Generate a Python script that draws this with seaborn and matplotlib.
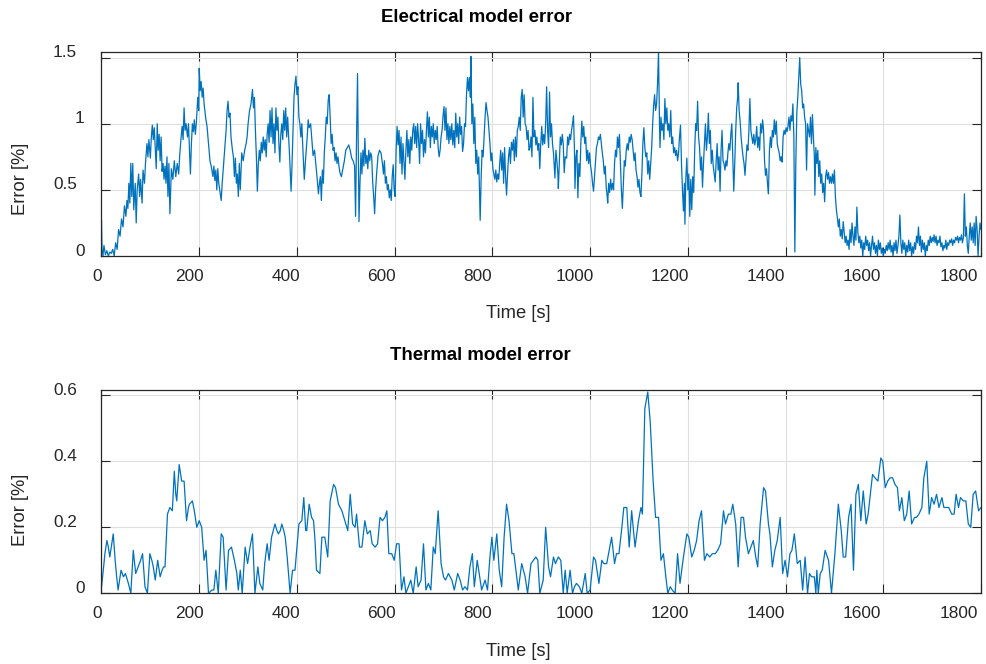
import matplotlib
matplotlib.use("Agg")
import matplotlib.pyplot as plt
from matplotlib.transforms import ScaledTranslation
import pandas as pd
import seaborn as sns

# ---------------------------------------------------------------- data
# Electrical model error [%] versus time [s]
elec_time = [
    0, 1, 3, 5, 8, 11, 14, 17, 20, 23,
    26, 29, 32, 35, 38, 41, 44, 47, 50, 52,
    54, 56, 58, 60, 62, 64, 66, 69, 71, 73,
    76, 78, 80, 83, 85, 88, 90, 93, 95, 97,
    100, 102, 104, 106, 108, 110, 112, 114, 116, 118,
    120, 122, 124, 126, 128, 130, 132, 134, 136, 138,
    140, 143, 146, 149, 152, 155, 158, 160, 163, 165,
    167, 169, 171, 173, 176, 178, 180, 182, 184, 186,
    188, 190, 192, 194, 197, 199, 200, 202, 204, 206,
    208, 210, 213, 216, 219, 222, 225, 228, 230, 232,
    234, 236, 238, 240, 243, 245, 247, 249, 252, 255,
    257, 259, 261, 263, 265, 268, 270, 272, 274, 276,
    278, 280, 282, 284, 287, 290, 293, 296, 298, 300,
    303, 306, 309, 311, 313, 315, 317, 319, 321, 323,
    325, 327, 329, 331, 333, 335, 337, 339, 341, 343,
    345, 347, 349, 351, 353, 355, 357, 359, 361, 363,
    365, 367, 369, 371, 373, 375, 377, 379, 381, 383,
    385, 388, 390, 392, 394, 396, 398, 400, 402, 404,
    406, 408, 410, 412, 415, 418, 421, 423, 425, 428,
    431, 433, 436, 438, 441, 444, 446, 448, 450, 452,
    454, 456, 458, 460, 462, 464, 466, 468, 470, 472,
    474, 476, 478, 480, 482, 484, 486, 488, 491, 494,
    497, 500, 503, 506, 509, 512, 515, 518, 520, 522,
    524, 526, 527, 529, 531, 533, 535, 537, 539, 541,
    543, 545, 547, 549, 551, 553, 555, 557, 559, 561,
    563, 566, 569, 572, 575, 577, 579, 581, 583, 585,
    587, 589, 591, 593, 595, 597, 599, 601, 603, 605,
    607, 609, 611, 613, 615, 617, 619, 621, 623, 625,
    627, 629, 631, 633, 635, 637, 639, 641, 643, 645,
    647, 649, 651, 653, 655, 657, 659, 661, 663, 665,
    667, 669, 671, 673, 675, 677, 679, 681, 683, 685,
    687, 689, 691, 693, 695, 697, 699, 701, 703, 705,
    707, 709, 711, 713, 715, 717, 719, 721, 723, 725,
    727, 729, 731, 733, 735, 737, 739, 741, 743, 745,
    747, 749, 751, 753, 755, 756, 758, 760, 762, 764,
    766, 768, 770, 772, 774, 775, 777, 779, 781, 783,
    785, 787, 789, 791, 793, 795, 797, 799, 801, 803,
    805, 807, 809, 811, 813, 815, 817, 819, 821, 823,
    825, 827, 829, 831, 833, 835, 837, 839, 841, 843,
    845, 847, 849, 851, 853, 855, 857, 859, 861, 863,
    865, 867, 869, 871, 873, 875, 877, 879, 881, 883,
    885, 887, 889, 891, 893, 895, 897, 899, 901, 903,
    905, 907, 909, 911, 913, 915, 917, 919, 921, 923,
    925, 927, 928, 930, 932, 934, 935, 937, 939, 941,
    943, 945, 947, 949, 952, 954, 956, 958, 960, 962,
    964, 966, 968, 969, 971, 973, 975, 977, 979, 981,
    983, 985, 987, 989, 991, 993, 995, 997, 999, 1001,
    1003, 1005, 1007, 1009, 1011, 1013, 1015, 1017, 1019, 1021,
    1023, 1025, 1027, 1029, 1031, 1033, 1035, 1036, 1038, 1040,
    1042, 1044, 1046, 1048, 1050, 1052, 1054, 1056, 1058, 1060,
    1062, 1064, 1066, 1068, 1070, 1072, 1074, 1076, 1078, 1080,
    1082, 1084, 1086, 1088, 1090, 1092, 1094, 1096, 1098, 1100,
    1102, 1104, 1106, 1108, 1110, 1112, 1114, 1116, 1118, 1120,
    1122, 1124, 1126, 1128, 1130, 1132, 1134, 1136, 1138, 1140,
    1142, 1143, 1145, 1147, 1149, 1151, 1153, 1155, 1157, 1159,
    1161, 1163, 1165, 1167, 1169, 1171, 1173, 1175, 1177, 1179,
    1181, 1183, 1185, 1187, 1189, 1191, 1193, 1194, 1196, 1198,
    1200, 1202, 1204, 1206, 1208, 1210, 1212, 1214, 1216, 1218,
    1220, 1222, 1224, 1226, 1228, 1230, 1232, 1234, 1236, 1238,
    1240, 1242, 1244, 1246, 1248, 1250, 1252, 1254, 1256, 1258,
    1260, 1262, 1264, 1266, 1268, 1270, 1272, 1274, 1276, 1278,
    1280, 1282, 1284, 1286, 1288, 1290, 1292, 1294, 1296, 1298,
    1300, 1302, 1303, 1305, 1307, 1309, 1311, 1313, 1315, 1317,
    1319, 1321, 1323, 1325, 1327, 1329, 1331, 1333, 1335, 1337,
    1339, 1341, 1343, 1345, 1347, 1349, 1351, 1353, 1355, 1357,
    1359, 1361, 1363, 1365, 1367, 1369, 1371, 1373, 1375, 1377,
    1379, 1381, 1383, 1385, 1387, 1389, 1391, 1393, 1395, 1397,
    1399, 1401, 1403, 1405, 1407, 1409, 1411, 1413, 1415, 1417,
    1419, 1421, 1423, 1425, 1427, 1429, 1431, 1433, 1435, 1437,
    1439, 1441, 1443, 1445, 1447, 1449, 1451, 1453, 1455, 1457,
    1459, 1460, 1462, 1464, 1466, 1468, 1470, 1472, 1474, 1476,
    1478, 1480, 1482, 1484, 1486, 1488, 1490, 1492, 1494, 1496,
    1498, 1500, 1502, 1504, 1506, 1508, 1510, 1512, 1514, 1516,
    1518, 1520, 1522, 1524, 1526, 1528, 1530, 1532, 1534, 1536,
    1538, 1540, 1542, 1544, 1546, 1548, 1550, 1552, 1554, 1556,
    1558, 1560, 1562, 1564, 1566, 1568, 1570, 1572, 1574, 1576,
    1578, 1580, 1582, 1584, 1586, 1588, 1590, 1592, 1594, 1596,
    1598, 1600, 1602, 1604, 1606, 1608, 1610, 1612, 1614, 1616,
    1618, 1620, 1622, 1624, 1626, 1628, 1630, 1632, 1634, 1636,
    1638, 1640, 1642, 1644, 1646, 1648, 1650, 1652, 1654, 1656,
    1658, 1660, 1662, 1664, 1666, 1668, 1670, 1672, 1674, 1676,
    1678, 1680, 1682, 1684, 1686, 1688, 1690, 1692, 1694, 1696,
    1698, 1700, 1702, 1704, 1706, 1708, 1710, 1712, 1714, 1716,
    1718, 1720, 1722, 1724, 1726, 1728, 1730, 1732, 1734, 1736,
    1738, 1740, 1742, 1744, 1746, 1748, 1750, 1752, 1754, 1756,
    1758, 1760, 1762, 1764, 1766, 1768, 1770, 1772, 1774, 1776,
    1778, 1780, 1782, 1784, 1786, 1788, 1790, 1792, 1794, 1796,
    1798, 1800,
]
elec_error = [
    .27, .05, 0, .08, .01, .04, 0, .03, .02, .05,
    0, .1, .05, .2, .15, .28, .22, .38, .3, .42,
    .36, .55, .4, .7, .45, .7, .35, .55, .25, .5,
    .62, .45, .58, .4, .65, .55, .7, .85, .75, .88,
    .74, .9, .99, .88, .97, .82, .66, 1.0, .8, .92,
    .72, .9, .64, .7, .58, .68, .55, .75, .45, .7,
    .32, .66, .58, .72, .6, .7, .62, .76, .9, .98,
    .88, 1.12, .95, 1.0, .9, 1.0, .8, .62, .85, 1.0,
    .94, 1.03, .92, 1.0, 1.2, 1.1, 1.42, 1.25, 1.32, 1.2,
    1.27, 1.15, 1.05, .98, .85, .72, .67, .6, .68, .57,
    .65, .5, .66, .55, .47, .42, .55, .65, .8, .95,
    1.1, 1.17, 1.05, 1.08, .9, .8, .75, .6, .74, .55,
    .62, .45, .7, .5, .78, .72, .8, .85, .9, 1.0,
    1.1, 1.15, 1.26, 1.12, 1.2, .95, .75, .49, .7, .8,
    .72, .86, .78, .9, .8, .88, .75, .92, 1.0, .86,
    1.1, .9, 1.12, .85, 1.0, .78, 1.12, .95, 1.05, .85,
    .71, .92, 1.0, .88, 1.1, .95, 1.12, .9, 1.05, .9,
    .75, .49, .7, .95, 1.2, 1.3, 1.36, 1.22, 1.28, 1.05,
    1.0, .9, 1.0, .82, .58, .75, .9, 1.03, .97, 1.0,
    .85, .76, .8, .72, .6, .47, .55, .6, .42, .65,
    .55, .78, .9, 1.05, 1.0, 1.18, 1.22, 1.05, .85, .92,
    .8, .82, .72, .78, .7, .75, .68, .63, .6, .66,
    .72, .8, .82, .84, .8, .74, .72, .68, .3, .9,
    1.38, .6, .26, .55, .78, .62, .8, .68, .89, .7,
    .76, .66, .8, .72, .78, .75, .56, .45, .32, .5,
    .62, .76, .8, .78, .7, .62, .72, .55, .6, .5,
    .54, .44, .5, .42, .6, .69, .5, .45, .8, .98,
    .84, .95, .7, .9, .62, .85, .72, .58, .8, .95,
    .75, .88, .7, .9, .8, .95, 1.0, .85, .98, .82,
    1.0, .88, .7, 1.0, .85, .95, .75, .88, .78, .95,
    1.09, .9, 1.05, .82, .98, .9, 1.0, .85, .95, .88,
    .98, .82, .75, .8, .9, .95, 1.06, 1.13, .95, 1.12,
    .88, 1.0, .85, .98, .88, 1.0, .84, .95, .82, 1.08,
    .9, 1.0, .85, 1.05, .92, .98, .79, .85, 1.0, .98,
    1.22, 1.35, 1.25, 1.35, 1.2, 1.51, 1.0, 1.15, .85, 1.05,
    .7, .8, .62, .75, .45, .27, .6, .8, .75, .9,
    1.05, 1.16, 1.1, 1.05, .95, .85, .72, .78, .66, .62,
    .58, .65, .56, .62, .58, .7, .8, .65, .78, .55,
    .82, .6, .46, .62, .75, .82, .7, .86, .8, .88,
    .72, .9, .75, .95, .98, 1.05, .95, 1.2, 1.26, 1.05,
    1.22, 1.0, .98, .88, .95, .8, .82, .9, .75, 1.2,
    .9, .95, .84, .9, .8, .85, .66, .85, .98, .84,
    .92, .85, 1.0, 1.28, .95, .82, 1.24, .9, 1.0, .85,
    .78, .65, .59, .8, .72, .62, .51, .7, .9, .84,
    .92, .85, .63, .75, .74, .9, .84, .92, .88, .95,
    1.0, 1.06, .8, .51, .75, .8, .44, .7, .6, .85,
    1.02, .9, .98, .85, .9, .72, .8, .7, .78, .68,
    .63, .55, .49, .6, .72, .82, .85, .9, .88, .92,
    .85, .78, .72, .62, .68, .52, .45, .4, .55, .48,
    .58, .5, .55, .5, .7, .8, .75, .9, .82, .92,
    .7, .5, .36, .55, .72, .68, .8, .85, .8, .9,
    .86, .92, .88, .8, .72, .78, .65, .6, .52, .58,
    .48, .45, .62, .85, .97, .82, .75, .78, .62, .72,
    .58, .7, .82, 1.0, 1.14, 1.22, 1.1, 1.15, 1.3, 1.55,
    1.0, .82, 1.05, .95, 1.0, .88, 1.19, 1.0, 1.12, .95,
    1.0, .9, 1.1, .85, .9, .78, .82, .76, .8, .72,
    .78, .9, .99, .7, .5, .34, .55, .24, .6, .74,
    .5, .62, .3, .58, .35, .6, .48, .8, 1.0, .95,
    1.17, .9, .82, .65, .75, .52, .7, .85, 1.0, .8,
    .9, 1.08, .85, .95, .7, .8, .68, .62, .56, .72,
    .85, .65, .75, .49, .8, .95, .72, .7, .65, .72,
    .68, .78, .85, .8, .92, 1.0, .75, .49, .7, .95,
    1.12, 1.2, 1.31, 1.1, 1.02, .9, .82, .75, .7, .61,
    .72, .84, .8, .95, 1.19, .95, .9, .85, .92, .84,
    .88, .98, .82, .9, .8, 1.0, .93, 1.03, .95, .72,
    .61, .66, .55, .47, .8, .9, .82, .95, .9, 1.03,
    .92, 1.02, .85, .81, .78, .72, .75, .71, .9, .95,
    .92, .97, .94, .98, 1.05, .95, 1.06, 1.02, 1.15, .9,
    .03, .7, 1.08, 1.2, 1.35, 1.5, 1.3, 1.25, 1.12, 1.15,
    1.05, 1.0, .65, 1.0, .95, .9, 1.05, .85, 1.07, .9,
    .75, .46, .82, .7, .8, .6, .72, .55, .62, .48,
    .55, .41, .6, .65, .58, .63, .55, .6, .55, .62,
    .55, .65, .45, .35, .29, .22, .28, .15, .2, .13,
    .26, .18, .1, .15, .08, .12, .05, .2, .1, .25,
    .15, .08, .22, .12, .37, .18, .1, .15, .06, .12,
    0, .1, .05, .15, .08, .12, .04, .1, 0, .08,
    .15, .05, .1, .02, .08, 0, .12, .05, .1, .02,
    .06, 0, .05, .02, .08, .04, .1, .05, .12, .03,
    .08, 0, .1, .04, .12, .02, .08, .15, .31, .1,
    .02, .12, .05, .1, 0, .08, .03, .12, .04, .1,
    0, .07, .02, .1, .05, .15, .1, .22, .08, .15,
    .03, .12, .05, .1, 0, .08, .04, .12, .08, .15,
    .1, .14, .11, .16, .1, .15, .08, .12, .1, .15,
    .07, .1, .04, .08, .06, .12, .05, .1, .08, .12,
    .1, .13, .08, .12, .1, .14, .12, .15, .1, .14,
    .12, .16, .1, .14, .47, .15, .22, .08, .02, .15,
    .25, .12, .22, .1, .25, .08, .3, .2, 0, .15,
    .25, .2,
]

# Thermal model error [%] versus time [s]
therm_time = [
    0, 3, 7, 11, 14, 17, 21, 24, 28, 31,
    34, 37, 40, 45, 49, 55, 60, 65, 70, 75,
    80, 84, 89, 94, 99, 103, 106, 110, 115, 120,
    124, 127, 130, 135, 140, 145, 149, 152, 154, 159,
    164, 169, 174, 178, 180, 186, 190, 195, 200, 205,
    210, 214, 219, 226, 230, 234, 239, 245, 249, 255,
    260, 266, 272, 277, 280, 284, 288, 294, 299, 304,
    309, 314, 320, 324, 330, 334, 339, 343, 348, 355,
    359, 362, 366, 369, 373, 376, 380, 386, 391, 396,
    400, 404, 410, 414, 418, 420, 425, 430, 434, 437,
    440, 447, 451, 457, 463, 468, 475, 479, 485, 492,
    498, 504, 509, 514, 519, 522, 528, 533, 539, 544,
    550, 554, 560, 565, 570, 575, 580, 584, 588, 594,
    599, 604, 609, 614, 619, 623, 628, 633, 638, 644,
    648, 654, 659, 664, 669, 674, 679, 683, 689, 695,
    700, 704, 710, 717, 722, 729, 734, 739, 744, 749,
    754, 759, 763, 769, 773, 778, 785, 790, 795, 799,
    803, 809, 814, 819, 824, 829, 834, 840, 844, 848,
    853, 860, 867, 872, 879, 884, 889, 893, 897, 904,
    909, 915, 919, 925, 929, 935, 940, 945, 949, 953,
    959, 964, 968, 972, 978, 983, 990, 994, 1000, 1007,
    1011, 1018, 1024, 1028, 1034, 1039, 1044, 1050, 1054, 1059,
    1065, 1069, 1075, 1080, 1085, 1092, 1099, 1104, 1107, 1112,
    1118, 1123, 1129, 1134, 1140, 1145, 1150, 1155, 1159, 1164,
    1168, 1174, 1179, 1184, 1191, 1198, 1202, 1208, 1213, 1218,
    1223, 1228, 1234, 1239, 1245, 1250, 1256, 1261, 1267, 1273,
    1277, 1283, 1288, 1292, 1298, 1303, 1309, 1314, 1318, 1324,
    1329, 1334, 1339, 1343, 1348, 1355, 1359, 1365, 1368, 1373,
    1378, 1383, 1389, 1394, 1399, 1404, 1409, 1413, 1418, 1424,
    1430, 1435, 1440, 1445, 1449, 1453, 1459, 1462, 1464, 1467,
    1471, 1475, 1481, 1488, 1494, 1501, 1508, 1514, 1518, 1523,
    1529, 1534, 1539, 1544, 1549, 1554, 1559, 1565, 1569, 1578,
    1583, 1589, 1595, 1599, 1604, 1609, 1614, 1619, 1624, 1629,
    1633, 1638, 1643, 1648, 1653, 1658, 1664, 1668, 1673, 1679,
    1683, 1689, 1694, 1699, 1704, 1709, 1714, 1720, 1724, 1730,
    1734, 1740, 1745, 1749, 1754, 1758, 1764, 1769, 1774, 1779,
    1784, 1789, 1795, 1800,
]
therm_error = [
    .02, .06, .12, .16, .14, .11, .15, .18, .10, .05,
    .01, .04, .07, .05, .06, .03, 0, .13, .06, .08,
    .10, .12, .02, 0, .12, .10, .08, .04, .10, .05,
    .07, .08, .08, .24, .26, .25, .37, .30, .28, .39,
    .34, .34, .22, .26, .27, .28, .25, .20, .22, .20,
    .10, .13, 0, .01, .01, .07, 0, .18, .17, .01,
    .13, .14, .10, .06, .01, .07, 0, .14, .09, .14,
    .18, 0, .08, .03, .01, .09, .15, .10, .17, .21,
    .19, .18, .19, .21, .19, .17, .11, 0, .07, .07,
    .14, .21, .22, .29, .19, .19, .27, .23, .22, .16,
    .07, .06, .17, .17, .11, .28, .33, .32, .27, .25,
    .22, .19, .30, .21, .20, .24, .14, .14, .22, .18,
    .19, .15, .14, .15, .23, .22, .23, .25, .12, .12,
    .10, .15, .15, .01, .05, 0, .02, .04, 0, .08,
    .02, .04, .15, .01, .03, .01, .14, .12, .25, .09,
    .05, .04, .06, .04, .01, .06, .04, .01, .02, .01,
    .08, .12, .02, .10, .06, .01, .04, .01, .11, .17,
    .10, .18, .07, .02, .17, .27, .22, .12, .12, .07,
    .01, .09, .05, 0, .09, .10, .11, .10, 0, .04,
    .20, .08, .05, .11, .09, .11, .10, 0, .07, 0,
    .07, 0, .02, .03, .02, 0, .06, 0, .01, .11,
    .10, .03, .10, .09, .09, .13, .17, .09, .12, .12,
    .20, .26, .26, .14, .25, .14, .22, .26, .24, .56,
    .61, .52, .34, .23, .23, .10, .12, .05, 0, .02,
    .01, 0, .12, .03, .11, .18, .17, .11, .13, .16,
    .22, .25, .10, .12, .11, .12, .12, .13, .15, .25,
    .21, .24, .24, .27, .21, .08, .23, .23, .17, .12,
    .14, .16, .11, .08, .21, .32, .31, .21, .18, .08,
    .13, .16, .23, .06, .10, .05, .12, .13, .18, .09,
    .10, .01, .11, 0, .06, .05, .05, 0, .07, 0,
    .06, .07, .13, .10, 0, .12, .27, .19, .11, .11,
    .23, .27, .07, .30, .33, .22, .31, .21, .24, .36,
    .35, .34, .41, .40, .32, .34, .35, .35, .33, .32,
    .25, .29, .22, .24, .31, .21, .23, .23, .24, .26,
    .35, .40, .24, .29, .27, .30, .26, .29, .26, .26,
    .26, .24, .24, .30, .26, .29, .28, .28, .21, .20,
    .30, .31, .25, .26,
]

time_ticks = [0, 200, 400, 600, 800, 1000, 1200, 1400, 1600, 1800]
elec_ticks = [0, 0.5, 1, 1.5]
elec_tick_labels = ["0", "0.5", "1", "1.5"]
therm_ticks = [0, 0.2, 0.4, 0.6]
therm_tick_labels = ["0", "0.2", "0.4", "0.6"]

assert len(elec_time) == len(elec_error)
assert len(therm_time) == len(therm_error)

elec_df = pd.DataFrame({"Time [s]": elec_time, "Error [%]": elec_error})
therm_df = pd.DataFrame({"Time [s]": therm_time, "Error [%]": therm_error})

# ---------------------------------------------------------------- style
sns.set_style("white")
plt.rcParams["font.family"] = ["Liberation Sans", "DejaVu Sans"]

W, H = 987, 664
DPI = 100
LINE_COLOR = "#0072BD"
AXIS_COLOR = "#262626"
GRID_COLOR = "#dfdfdf"
FS = 12.4
LABEL_FS = 13.2

fig = plt.figure(figsize=(W / DPI, H / DPI), dpi=DPI)


def px_rect(left, top, right, bottom):
    return [left / W, 1 - bottom / H, (right - left) / W, (bottom - top) / H]


def shift(dx, dy):
    return ScaledTranslation(dx / DPI, dy / DPI, fig.dpi_scale_trans)


ax_e = fig.add_axes(px_rect(101.5, 51.7, 981, 256))
ax_t = fig.add_axes(px_rect(101.5, 390, 981, 593.3))

sns.lineplot(data=elec_df, x="Time [s]", y="Error [%]", ax=ax_e,
             color=LINE_COLOR, linewidth=0.9, estimator=None, sort=False)
sns.lineplot(data=therm_df, x="Time [s]", y="Error [%]", ax=ax_t,
             color=LINE_COLOR, linewidth=0.9, estimator=None, sort=False)

x_label_dx = [-4, -10, -11.5, -13, -14.5, -15.5, -18, -19.5, -21, -22]


def style_axes(ax, yticks, ylabels, ytop):
    ax.set_xlim(0, 1800)
    ax.set_ylim(0, ytop)
    ax.set_xticks(time_ticks)
    ax.set_xticklabels([str(t) for t in time_ticks])
    ax.set_yticks(yticks)
    ax.set_yticklabels(ylabels)
    ax.set_xlabel("")
    ax.set_ylabel("")
    ax.grid(True, color=GRID_COLOR, linewidth=0.8)
    ax.set_axisbelow(True)
    for sp in ax.spines.values():
        sp.set_visible(True)
        sp.set_color(AXIS_COLOR)
        sp.set_linewidth(0.9)
    ax.tick_params(axis="both", direction="in", length=6.5, width=0.8,
                   color=AXIS_COLOR, labelcolor=AXIS_COLOR, labelsize=FS,
                   top=True, right=True, bottom=True, left=True)
    ax.tick_params(axis="x", pad=9.2)
    ax.tick_params(axis="y", pad=12)
    for lab, dx in zip(ax.get_xticklabels(), x_label_dx):
        lab.set_transform(lab.get_transform() + shift(dx, 0))
    for lab, text in zip(ax.get_yticklabels(), ylabels):
        dx = -8 if "." in text else 0
        lab.set_transform(lab.get_transform() + shift(dx, 6.5))


style_axes(ax_e, elec_ticks, elec_tick_labels, 1.545)
style_axes(ax_t, therm_ticks, therm_tick_labels, 0.616)


def fig_text(x, y, s, **kw):
    fig.text(x / W, 1 - y / H, s, ha="center", va="center", **kw)


fig_text(477, 18, "Electrical model error", fontsize=13.4, fontweight="bold", color="black")
fig_text(480, 356, "Thermal model error", fontsize=13.4, fontweight="bold", color="black")
fig_text(518, 313, "Time [s]", fontsize=LABEL_FS, color=AXIS_COLOR)
fig_text(518, 651, "Time [s]", fontsize=LABEL_FS, color=AXIS_COLOR)
fig_text(21, 179, "Error [%]", fontsize=LABEL_FS, color=AXIS_COLOR, rotation=90)
fig_text(21, 510, "Error [%]", fontsize=LABEL_FS, color=AXIS_COLOR, rotation=90)

fig.savefig("out.png", dpi=DPI, facecolor="white")
